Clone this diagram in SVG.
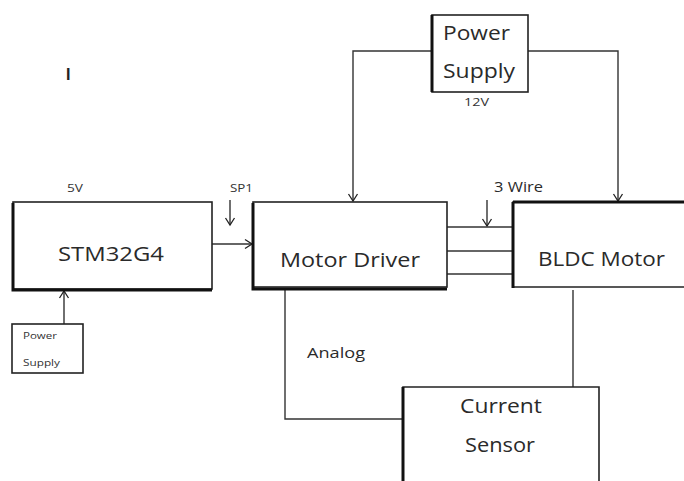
<svg xmlns="http://www.w3.org/2000/svg" width="684" height="481" viewBox="0 0 684 481">
<defs>
<marker id="arr" markerWidth="12" markerHeight="12" refX="10" refY="6" orient="auto" markerUnits="userSpaceOnUse">
<path d="M3,1.5 L10,6 L3,10.5" fill="none" stroke="#222" stroke-width="1.3"/>
</marker>
</defs>
<style>
.box{fill:#fff;stroke:#222;stroke-width:1.6}
.thick{stroke:#111;stroke-width:3;fill:none}
.ln{stroke:#333;stroke-width:1.4;fill:none}
text{font-family:"Open Sans","Noto Sans",sans-serif}
.big{font-size:20px;fill:#2a2a2a}
.sm{font-size:11px;fill:#333}
.mid{font-size:14px;fill:#2a2a2a}
.tiny{font-size:9px;fill:#333}
</style>
<rect width="684" height="481" fill="#fff"/>
<text x="66" y="80" style="font-family:'Liberation Sans',sans-serif;font-size:16px;font-weight:bold;fill:#222">I</text>

<g id="connectors">
<path class="ln" d="M432,51 H353 V201" marker-end="url(#arr)"/>
<path class="ln" d="M528,51 H618 V201" marker-end="url(#arr)"/>
<path class="ln" d="M212,244 H252" marker-end="url(#arr)"/>
<path class="ln" d="M64,324 V291" marker-end="url(#arr)"/>
<path class="ln" d="M230,200 V225" marker-end="url(#arr)"/>
<path class="ln" d="M487,200 V226" marker-end="url(#arr)"/>
<path class="ln" d="M447,227 H513"/>
<path class="ln" d="M447,251 H513"/>
<path class="ln" d="M447,274 H513"/>
<path class="ln" d="M285,290 V419 H403"/>
<path class="ln" d="M573,290 V387"/>
</g>

<g id="stm32">
<rect class="box" x="13" y="202" width="199" height="87"/>
<path class="thick" d="M13,203 V290 H212"/>
<text class="big" x="58" y="261" textLength="106" lengthAdjust="spacingAndGlyphs">STM32G4</text>
<text class="sm" x="67" y="192" textLength="16" lengthAdjust="spacingAndGlyphs">5V</text>
</g>

<g id="power-small">
<rect class="box" x="12" y="324" width="71" height="49"/>
<text class="tiny" x="23" y="339" textLength="34" lengthAdjust="spacingAndGlyphs">Power</text>
<text class="tiny" x="23" y="366" textLength="37" lengthAdjust="spacingAndGlyphs">Supply</text>
</g>

<g id="motor-driver">
<rect class="box" x="253" y="202" width="194" height="85"/>
<path class="thick" d="M253,203 V289 H447"/>
<text class="big" x="280" y="267" textLength="140" lengthAdjust="spacingAndGlyphs">Motor Driver</text>
<text class="sm" x="230" y="192" textLength="23" lengthAdjust="spacingAndGlyphs">SP1</text>
</g>

<g id="power-top">
<rect class="box" x="432" y="15" width="96" height="77"/>
<path class="thick" d="M432,15 V92"/>
<text class="big" x="443" y="40" textLength="67" lengthAdjust="spacingAndGlyphs">Power</text>
<text class="big" x="443" y="78" textLength="72" lengthAdjust="spacingAndGlyphs">Supply</text>
<text class="sm" x="464" y="106" textLength="25" lengthAdjust="spacingAndGlyphs">12V</text>
</g>

<g id="bldc">
<path class="box" d="M690,287 H513 V202 H690"/>
<path class="thick" d="M513,202 V288 M513,202 H690"/>
<text class="big" x="538" y="266" textLength="127" lengthAdjust="spacingAndGlyphs">BLDC Motor</text>
<text class="mid" x="494" y="192" textLength="49" lengthAdjust="spacingAndGlyphs">3 Wire</text>
</g>

<g id="current-sensor">
<path class="box" d="M403,490 V387 H599 V490"/>
<path class="thick" d="M403,387 V490"/>
<text class="big" x="460" y="413" textLength="82" lengthAdjust="spacingAndGlyphs">Current</text>
<text class="big" x="465" y="452" textLength="70" lengthAdjust="spacingAndGlyphs">Sensor</text>
</g>

<text class="mid" x="307" y="358" textLength="58" lengthAdjust="spacingAndGlyphs">Analog</text>
</svg>
